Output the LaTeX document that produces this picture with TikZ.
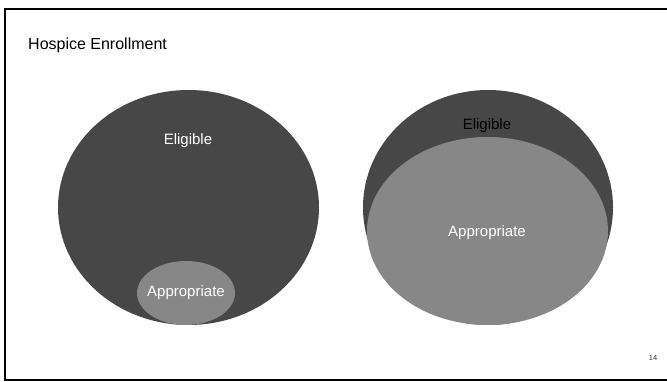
\documentclass[tikz,border=0pt]{standalone}
\usepackage{fontspec}
\setmainfont{Liberation Sans}
\usetikzlibrary{shapes.geometric}
\definecolor{darkfill}{HTML}{474747}
\definecolor{lightfill}{HTML}{878787}
\tikzset{
  darkell/.style={ellipse, fill=darkfill, draw=none, inner sep=0pt},
  lightell/.style={ellipse, fill=lightfill, draw=none, inner sep=0pt},
  lbl/.style={font=\fontsize{15}{18}\selectfont, inner sep=0pt},
}
\begin{document}
\begin{tikzpicture}[x=1pt,y=-1pt]
\useasboundingbox (0,0) rectangle (667,382);
\fill[white] (0,0) rectangle (667,382);
\draw[line width=2pt] (667,9) coordinate (fr1) -- (5,9) -- (5,380) -- (667,380) coordinate (fr2);
\node[anchor=west, font=\fontsize{16}{19}\selectfont, inner sep=0pt] (title) at (28,45) {Hospice Enrollment};
% left diagram
\node[darkell, minimum width=261pt, minimum height=235pt] (elig1) at (188.5,207.5) {};
\node[lightell, minimum width=98pt, minimum height=64pt] (appr1) at (186,293) {};
\node[lbl, text=white] (elig1t) at (188,141) {Eligible};
\node[lbl, text=white] (appr1t) at (186,293) {Appropriate};
% right diagram
\node[darkell, minimum width=250pt, minimum height=235pt] (elig2) at (488,207.5) {};
\node[lightell, minimum width=241pt, minimum height=188pt] (appr2) at (487.5,231) {};
\node[lbl, text=black] (elig2t) at (487,126) {Eligible};
\node[lbl, text=white] (appr2t) at (487,233) {Appropriate};
\node[font=\fontsize{7.5}{9}\selectfont, inner sep=0pt, text=black!80] (pnum) at (653,358) {14};
\end{tikzpicture}
\end{document}
